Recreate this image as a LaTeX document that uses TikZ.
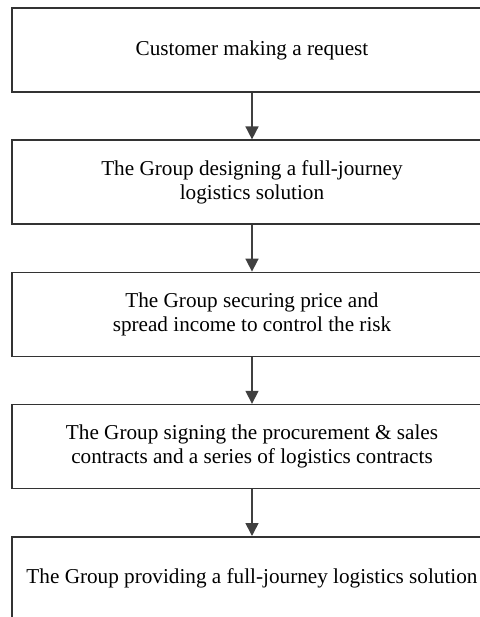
\documentclass[tikz,border=0pt]{standalone}
\usepackage{fontspec}
\setmainfont{Liberation Serif}
\usetikzlibrary{positioning,arrows.meta}

\begin{document}
\begin{tikzpicture}[
    x=0.5pt, y=-0.5pt,
    node distance=23.3pt,
    box/.style={rectangle, draw=black!80, line width=0.8pt, minimum width=240pt, minimum height=42pt, align=center, font=\fontsize{10.6}{12.2}\selectfont},
    flow/.style={draw=black!75, line width=0.8pt, -{Triangle[width=6.5pt,length=6.5pt]}}
]
    \useasboundingbox (0,0) rectangle (480,617);
    \clip (0,0) rectangle (480,617);
    \node[box] (request) at (252,50) {Customer making a request};
    \node[box, below=of request] (design) {The Group designing a full-journey\\logistics solution};
    \node[box, below=of design] (price) {The Group securing price and\\spread income to control the risk};
    \node[box, below=of price] (sign) {The Group signing the procurement \& sales\\contracts and a series of logistics contracts};
    \node[box, below=of sign] (provide) {The Group providing a full-journey logistics solution};

    \draw[flow] (request) -- (design);
    \draw[flow] (design) -- (price);
    \draw[flow] (price) -- (sign);
    \draw[flow] (sign) -- (provide);
\end{tikzpicture}
\end{document}
